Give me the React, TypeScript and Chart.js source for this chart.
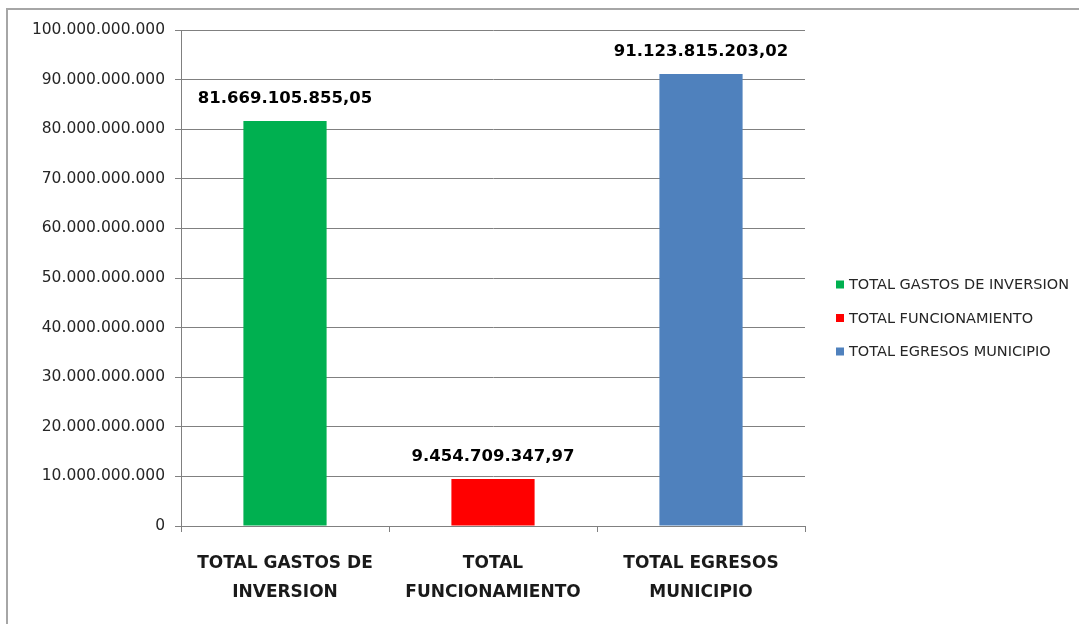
import React, { useEffect, useRef } from "react";
import { Chart, registerables } from "chart.js";

Chart.register(...registerables);

const categories: string[][] = [
  ["TOTAL GASTOS DE", "INVERSION"],
  ["TOTAL", "FUNCIONAMIENTO"],
  ["TOTAL EGRESOS", "MUNICIPIO"],
];
const seriesNames: string[] = [
  "TOTAL GASTOS DE INVERSION",
  "TOTAL FUNCIONAMIENTO",
  "TOTAL EGRESOS MUNICIPIO",
];
const seriesValues: number[] = [81669105855.05, 9454709347.97, 91123815203.02];
const seriesColors: string[] = ["#00B050", "#FF0000", "#4F81BD"];
const yTickMax = 100000000000;
const yTickStep = 10000000000;

const FONT = "'DejaVu Sans', sans-serif";

function groupThousands(intPart: string): string {
  return intPart.replace(/\B(?=(\d{3})+(?!\d))/g, ".");
}
function formatInt(v: number): string {
  return groupThousands(Math.round(v).toString());
}
function formatDec(v: number): string {
  const [i, d] = v.toFixed(2).split(".");
  return groupThousands(i) + "," + d;
}

const dataLabelsPlugin = {
  id: "dataLabels",
  afterDatasetsDraw(chart: any) {
    const ctx = chart.ctx;
    ctx.save();
    ctx.font = `bold 16.5px ${FONT}`;
    ctx.fillStyle = "#000000";
    ctx.textAlign = "center";
    ctx.textBaseline = "middle";
    chart.data.datasets.forEach((ds: any, i: number) => {
      const meta = chart.getDatasetMeta(i);
      ds.data.forEach((v: number | null, j: number) => {
        if (v == null) return;
        const el = meta.data[j];
        ctx.fillText(formatDec(v), el.x, el.y - 22);
      });
    });
    ctx.restore();
  },
};

const legendPlugin = {
  id: "sideLegend",
  afterDraw(chart: any) {
    const ctx = chart.ctx;
    const area = chart.chartArea;
    ctx.save();
    ctx.font = `14.5px ${FONT}`;
    ctx.textAlign = "left";
    ctx.textBaseline = "middle";
    const n = chart.data.datasets.length;
    const spacing = 33.5;
    const centerY = 308;
    chart.data.datasets.forEach((ds: any, i: number) => {
      const y = centerY + (i - (n - 1) / 2) * spacing;
      const x = area.right + 31;
      ctx.fillStyle = ds.backgroundColor;
      ctx.fillRect(x, y - 4, 8, 8);
      ctx.fillStyle = "#262626";
      ctx.fillText(ds.label, x + 13, y + 1);
    });
    ctx.restore();
  },
};

export default function App() {
  const ref = useRef<HTMLCanvasElement | null>(null);
  useEffect(() => {
    if (!ref.current) return;
    const datasets = seriesNames.map((name, i) => ({
      label: name,
      data: categories.map((_, j) => (j === i ? seriesValues[i] : null)),
      backgroundColor: seriesColors[i],
      borderWidth: 0,
      barPercentage: 0.4,
      categoryPercentage: 1,
      grouped: false,
    }));
    const chart = new Chart(ref.current, {
      type: "bar",
      data: { labels: categories as any, datasets: datasets as any },
      options: {
        animation: false,
        responsive: false,
        layout: { padding: { left: 23, top: 20, right: 274, bottom: 0 } },
        plugins: {
          legend: { display: false },
          tooltip: { enabled: false },
        },
        scales: {
          x: {
            offset: true,
            grid: {
              offset: true,
              drawOnChartArea: false,
              drawTicks: true,
              tickLength: 6,
              color: "#808080",
            },
            border: { display: true, color: "#808080", width: 1 },
            ticks: {
              padding: 17,
              color: "#1a1a1a",
              font: { family: FONT, size: 17, weight: "bold", lineHeight: 1.7 },
              maxRotation: 0,
              autoSkip: false,
            },
            afterFit: (scale: any) => {
              scale.height = 98;
            },
          },
          y: {
            min: 0,
            max: yTickMax,
            ticks: {
              stepSize: yTickStep,
              padding: 10,
              color: "#262626",
              font: { family: FONT, size: 15.5 },
              callback: (v: any) => formatInt(Number(v)),
            },
            grid: {
              color: "#808080",
              tickLength: 6,
              drawTicks: true,
            },
            border: { display: true, color: "#808080", width: 1 },
            afterFit: (scale: any) => {
              scale.width = 150;
            },
          },
        },
      },
      plugins: [dataLabelsPlugin, legendPlugin],
    });
    return () => chart.destroy();
  }, []);

  return (
    <div
      style={{
        position: "fixed",
        left: 6,
        top: 8,
        width: 1073,
        height: 616,
        borderLeft: "2px solid #a6a6a6",
        borderTop: "2px solid #a6a6a6",
        background: "#ffffff",
        boxSizing: "border-box",
      }}
    >
      <canvas ref={ref} width={1071} height={614} style={{ display: "block" }} />
    </div>
  );
}
